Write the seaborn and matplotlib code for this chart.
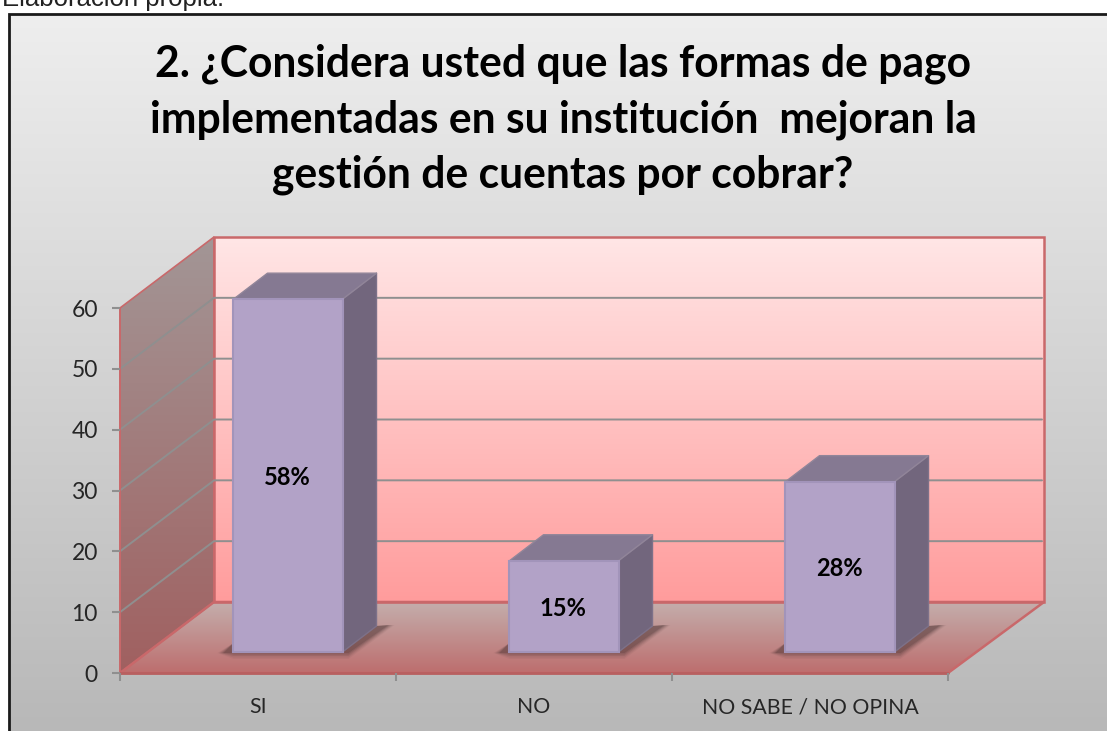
import numpy as np
import pandas as pd
import seaborn as sns
import matplotlib.pyplot as plt
from matplotlib.colors import LinearSegmentedColormap
from matplotlib.patches import Polygon
from matplotlib.transforms import Affine2D, IdentityTransform

categories = ['SI', 'NO', 'NO SABE / NO OPINA']
values = [58, 15, 28]
labels = ['58%', '15%', '28%']
yticks = [0, 10, 20, 30, 40, 50, 60]
title = '2. ¿Considera usted que las formas de pago\nimplementadas en su institución  mejoran la\ngestión de cuentas por cobrar?'

W, H = 1107, 731
# plot box of the front plane, in pixels from top left
LEFT, RIGHT, TOP, BOTTOM = 120, 948, 308, 673
WALL_DX, WALL_DY = 94, 71      # depth of the whole chart
BAR_DX, BAR_DY = 30, 21        # where the bars stand on the floor
SIDE_DX, SIDE_DY = 34, 26      # depth of a bar
EDGE = '#c9686a'
GRID = '#8f8f8f'

sns.set_theme(style='white')
plt.rcParams['font.family'] = ['Lato', 'DejaVu Sans']

fig = plt.figure(figsize=(W / 100, H / 100), dpi=100)
fig.patch.set_facecolor('white')

# background layer in pixels
bg = fig.add_axes([0, 0, 1, 1], zorder=0)
bg.set_xlim(0, W)
bg.set_ylim(H, 0)
bg.axis('off')


def gradient(poly, stops):
    xs, ys = zip(*poly)
    cmap = LinearSegmentedColormap.from_list('g', stops)
    grad = np.linspace(0, 1, 256).reshape(-1, 1)
    im = bg.imshow(grad, cmap=cmap, extent=[min(xs), max(xs), max(ys), min(ys)], aspect='auto', vmin=0, vmax=1)
    clip = Polygon(poly, closed=True, transform=bg.transData, fc='none', ec='none')
    bg.add_patch(clip)
    im.set_clip_path(clip)


# chart area
gradient([(9, 14), (W, 14), (W, H), (9, H)], ['#eeeeee', '#b8b8b8'])
bg.plot([9, 9, W], [H, 14, 14], color='#1a1a1a', lw=2, solid_joinstyle='miter')

# walls and floor
top_back = TOP - WALL_DY
bot_back = BOTTOM - WALL_DY
back_l, back_r = LEFT + WALL_DX, RIGHT + WALL_DX + 2
back = [(back_l, top_back), (back_r, top_back), (back_r, bot_back), (back_l, bot_back)]
side = [(LEFT, TOP), (back_l, top_back), (back_l, bot_back), (LEFT, BOTTOM)]
floor = [(LEFT, BOTTOM), (back_l, bot_back), (back_r, bot_back), (RIGHT, BOTTOM)]
gradient(back, ['#ffe6e6', '#ff9c9c'])
gradient(side, ['#a39696', '#a06060'])
gradient(floor, ['#c4aeac', '#bd6e6e'])
bg.add_patch(Polygon(back, closed=True, fc='none', ec=EDGE, lw=1.8))
bg.add_patch(Polygon(side, closed=True, fc='none', ec=EDGE, lw=1.2))
bg.add_patch(Polygon(floor, closed=True, fc='none', ec=EDGE, lw=1.8))

# front plane, the bars come from seaborn
ax = fig.add_axes([LEFT / W, 1 - BOTTOM / H, (RIGHT - LEFT) / W, (BOTTOM - TOP) / H], zorder=1)
ax.patch.set_alpha(0)
df = pd.DataFrame({'categoria': categories, 'valor': values})
sns.barplot(data=df, x='categoria', y='valor', color='#b2a2c7', saturation=1, width=0.395, ax=ax, zorder=5)
ax.set_ylim(0, 60)
ax.set_xlim(-0.5, 2.5)
ax.set_xlabel('')
ax.set_ylabel('')
for s in ax.spines.values():
    s.set_visible(False)
ax.set_yticks(yticks)
ax.set_xticks([-0.5, 0.5, 1.5, 2.5])
ax.set_xticklabels([])
ax.tick_params(axis='y', length=6, width=1.5, color=GRID, labelsize=16.5, labelcolor='#262626', pad=10, left=True)
ax.tick_params(axis='x', length=6, width=1.5, color=GRID, bottom=True)
for c, name in enumerate(categories):
    ax.annotate(name, (c, 0), xytext=(0, -34), textcoords='offset pixels',
                ha='center', va='center', fontsize=15.3, color='#262626')

# gridlines run along the left wall and across the back wall
for t in yticks[1:-1]:
    y = H - ax.transData.transform((0, t))[1]
    bg.plot([LEFT, back_l, back_r - 2], [y, y - WALL_DY, y - WALL_DY], color=GRID, lw=1.4, zorder=4)
bg.plot([LEFT, LEFT], [TOP, BOTTOM], color=EDGE, lw=1.2, zorder=4)
bg.plot([LEFT, RIGHT], [BOTTOM, BOTTOM], color='#b86060', lw=2, zorder=4)
bg.set_xlim(0, W)
bg.set_ylim(H, 0)

# bars stand deeper on the floor, so every part of them gets this shift
shift = ax.transData + Affine2D().translate(BAR_DX, BAR_DY)


def px_point(x, y, dx=0, dy=0):
    p = shift.transform((x, y))
    return (p[0] + dx, p[1] + dy)


for bar, lab in zip(ax.patches, labels):
    x0, x1 = bar.get_x(), bar.get_x() + bar.get_width()
    val = bar.get_height()
    bar.set_transform(shift)
    bar.set_edgecolor('#a294ba')
    bar.set_linewidth(1.5)
    bar.set_clip_on(False)

    # soft shadow on the floor
    for grow, alpha in [(6, 0.06), (4.5, 0.09), (3, 0.12), (1.5, 0.16), (0, 0.2)]:
        pts = [px_point(x0, 0, -10 - grow, -1), px_point(x0, 0, 0, 9), px_point(x1, 0, SIDE_DX, SIDE_DY),
               px_point(x1, 0, SIDE_DX + 12 + grow, SIDE_DY + 1), px_point(x1, 0, 6, -1 - grow), px_point(x0, 0, 0, -1 - grow)]
        ax.add_patch(Polygon(pts, closed=True, transform=IdentityTransform(), fc='#3f2a2a', ec='none', alpha=alpha, zorder=2, clip_on=False))

    # side and top faces
    sd = [px_point(x1, 0), px_point(x1, val), px_point(x1, val, SIDE_DX, SIDE_DY), px_point(x1, 0, SIDE_DX, SIDE_DY)]
    tp = [px_point(x0, val), px_point(x1, val), px_point(x1, val, SIDE_DX, SIDE_DY), px_point(x0, val, SIDE_DX, SIDE_DY)]
    ax.add_patch(Polygon(sd, closed=True, transform=IdentityTransform(), fc='#72667d', ec='#7d7189', lw=1, zorder=4, clip_on=False, joinstyle='round'))
    ax.add_patch(Polygon(tp, closed=True, transform=IdentityTransform(), fc='#857992', ec='#918599', lw=1, zorder=4, clip_on=False, joinstyle='round'))

    ax.annotate(lab, (x0 + bar.get_width() / 2, val / 2), xytext=(BAR_DX - 1, BAR_DY - 2), textcoords='offset pixels',
                ha='center', va='center', fontsize=17, fontweight='bold', color='black', zorder=6)

fig.text(563 / W, 1 - 119.5 / H, title, fontsize=30.7, fontweight='bold', color='black', ha='center', va='center',
         zorder=3, multialignment='center', linespacing=1.46)
fig.text(2 / W, 1 + 1 / H, 'Elaboración propia.', family='Liberation Sans', fontsize=18.5, color='#222222', ha='left', va='center')

fig.savefig('out.png', dpi=100)
